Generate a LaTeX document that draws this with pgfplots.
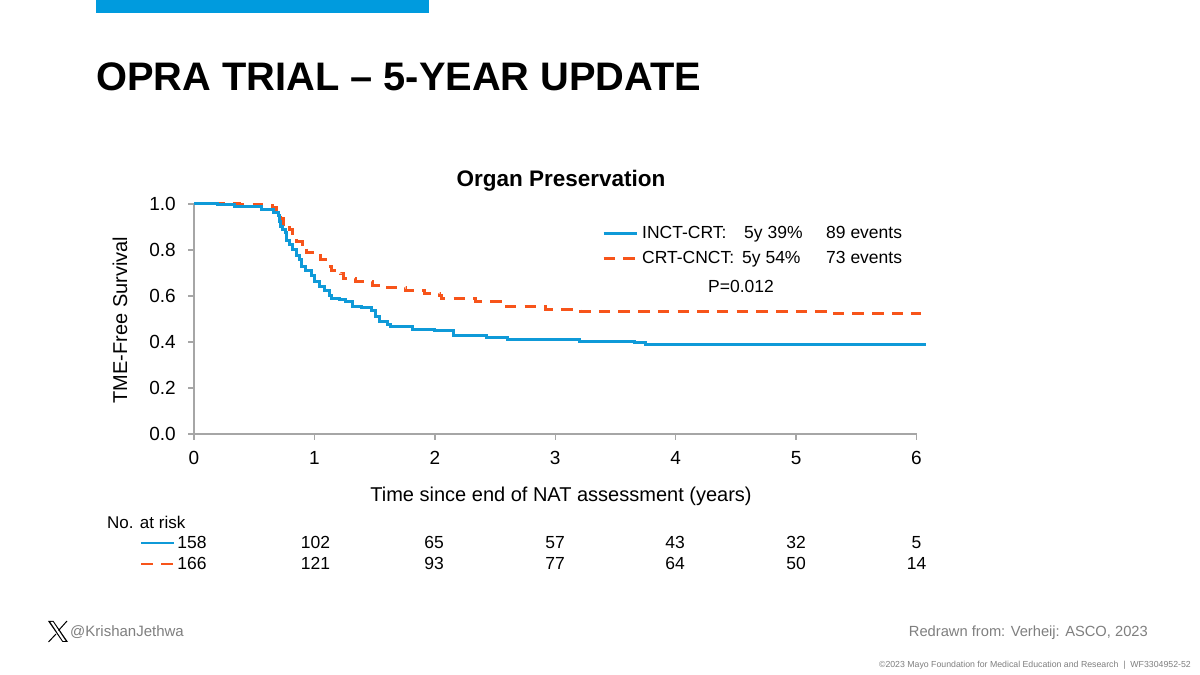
\documentclass[border=0pt]{standalone}
\usepackage{fontspec}
\setmainfont{Liberation Sans}
\usepackage{pgfplots}
\pgfplotsset{compat=1.18}
\definecolor{incblue}{HTML}{0F9AD8}
\definecolor{crtorange}{HTML}{F7541A}
\definecolor{axisgray}{HTML}{A6A6A6}
\definecolor{footgray}{HTML}{7F7F7F}
\newcommand{\fs}[1]{\fontsize{#1}{#1}\selectfont}
\begin{document}
\begin{tikzpicture}[x=1pt,y=1pt]
% page, 1pt = 1 reference pixel
\path[fill=white,use as bounding box] (0,0) rectangle (1200,675);
\fill[fill={rgb,255:red,0;green,155;blue,222}] (96,662) rectangle (429,675);
\node[anchor=base west,inner sep=0pt] at (96,584) {\fs{39.8}\bfseries OPRA TRIAL – 5-YEAR UPDATE};

\begin{axis}[
	at={(194pt,241pt)}, anchor=south west,
	scale only axis, width=722.5pt, height=230pt,
	xmin=0, xmax=6, ymin=0, ymax=1,
	clip=false,
	axis lines=left,
	axis line style={-,draw=axisgray,line width=1.5pt},
	tick style={draw=axisgray,line width=1.5pt},
	major tick length=6pt,
	tick align=outside,
	xtick={0,1,2,3,4,5,6},
	ytick={0,0.2,0.4,0.6,0.8,1},
	/pgf/number format/assume math mode=true,
	yticklabel style={/pgf/number format/fixed,/pgf/number format/fixed zerofill,/pgf/number format/precision=1,font=\fs{19},inner sep=0pt,xshift=-12pt},
	xticklabel style={font=\fs{19},inner sep=0pt,yshift=-11pt},
	title={\bfseries Organ Preservation},
	every axis title shift=0pt,
	title style={font=\fs{22.5},at={(axis description cs:0.508,1.100)},anchor=center,inner sep=0pt},
	xlabel={Time since end of NAT assessment (years)},
	xlabel style={font=\fs{20},at={(axis description cs:0.508,-0.27)},anchor=center,inner sep=0pt},
	ylabel={TME-Free Survival},
	ylabel style={font=\fs{20},at={(axis description cs:-0.1024,0.496)},anchor=center,inner sep=0pt},
	reverse legend,
	legend cell align=left,
	legend style={draw=none,fill=none,font=\fs{17.5},at={(408pt,209.5pt)},anchor=north west,inner sep=0pt,
		row sep=7pt},
	legend image code/.code={\draw[#1] (0pt,0pt)--(33pt,0pt);},
]
\addplot[const plot,crtorange,line width=3pt,dash pattern=on 11.5pt off 8.2pt] coordinates {
(0,1.000)
(0.380,0.998)
(0.564,0.993)
(0.656,0.983)
(0.689,0.965)
(0.722,0.939)
(0.747,0.913)
(0.797,0.887)
(0.822,0.852)
(0.855,0.835)
(0.905,0.826)
(0.938,0.787)
(1.021,0.774)
(1.054,0.757)
(1.112,0.730)
(1.145,0.709)
(1.220,0.696)
(1.245,0.674)
(1.344,0.661)
(1.485,0.646)
(1.610,0.635)
(1.759,0.622)
(1.917,0.612)
(2.041,0.600)
(2.058,0.587)
(2.340,0.574)
(2.598,0.553)
(2.921,0.541)
(3.212,0.533)
(5.320,0.522)
(6.040,0.522)
};
\addlegendentry{\hspace*{2pt}\makebox[184pt][l]{\makebox[100pt][l]{CRT-CNCT:}5y 54\%}73 events}
\addplot[const plot,incblue,line width=3pt] coordinates {
(0,1.000)
(0.199,0.996)
(0.340,0.987)
(0.564,0.978)
(0.614,0.974)
(0.664,0.965)
(0.705,0.948)
(0.714,0.926)
(0.722,0.904)
(0.739,0.891)
(0.763,0.878)
(0.772,0.843)
(0.797,0.822)
(0.822,0.800)
(0.855,0.778)
(0.880,0.757)
(0.896,0.730)
(0.929,0.709)
(0.979,0.691)
(1.004,0.665)
(1.046,0.643)
(1.087,0.622)
(1.129,0.600)
(1.145,0.591)
(1.212,0.585)
(1.261,0.574)
(1.320,0.554)
(1.394,0.550)
(1.477,0.539)
(1.510,0.513)
(1.544,0.487)
(1.610,0.478)
(1.635,0.467)
(1.817,0.455)
(2.000,0.448)
(2.158,0.430)
(2.290,0.428)
(2.432,0.420)
(2.606,0.410)
(3.203,0.404)
(3.660,0.396)
(3.751,0.387)
(6.080,0.387)
};
\addlegendentry{\hspace*{2pt}\makebox[184pt][l]{\makebox[102pt][l]{INCT-CRT:}5y 39\%}89 events}
\end{axis}

\node[font=\fs{17.5},inner sep=0pt] at (741,389) {P=0.012};

% numbers at risk
\node[font=\fs{17},anchor=west,inner sep=0pt] at (107,153) {No. at risk};
\draw[incblue,line width=2.5pt] (141,132)--(174,132);
\draw[crtorange,line width=2.5pt,dash pattern=on 12pt off 8pt] (141,111)--(173,111);
\foreach \x/\a/\b in {192/158/166,315.5/102/121,434/65/93,555/57/77,675/43/64,796/32/50,916.5/5/14}{
	\node[font=\fs{17.5},inner sep=0pt,anchor=base] at (\x,126) {\a};
	\node[font=\fs{17.5},inner sep=0pt,anchor=base] at (\x,105) {\b};
}

% footer
\fill[black] (48,54) -- (53.5,54) -- (68,33) -- (62.5,33) -- cycle;
\fill[white] (50.5,53) -- (53,53) -- (65.5,34) -- (63,34) -- cycle;
\draw[black,line width=1pt] (67,54) -- (58.5,44.5) (56,41) -- (48.5,33);
\node[font=\fs{15},text=footgray,anchor=west,inner sep=0pt] at (70,42.5) {@KrishanJethwa};
\node[font=\fs{14.7},text=footgray,anchor=east,inner sep=0pt] at (1148,42.5) {Redrawn from: Verheij: ASCO, 2023};
\node[font=\fs{8.75},text=footgray,anchor=east,inner sep=0pt] at (1191,9.5) {©2023 Mayo Foundation for Medical Education and Research\ \ |\ \ WF3304952-52};
\end{tikzpicture}
\end{document}
